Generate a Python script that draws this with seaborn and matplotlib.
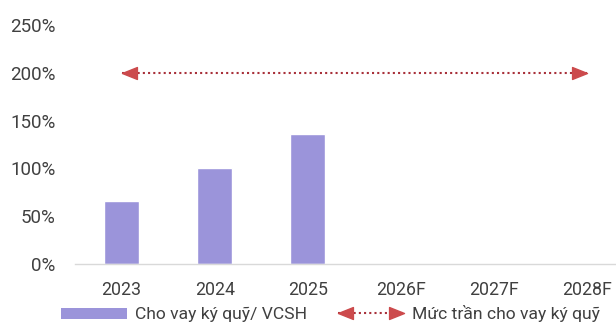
import numpy as np
import pandas as pd
import matplotlib
matplotlib.use("Agg")
import matplotlib.pyplot as plt
import seaborn as sns
from matplotlib.lines import Line2D
from matplotlib.patches import Patch
from matplotlib.path import Path
from matplotlib.markers import MarkerStyle
from matplotlib.legend_handler import HandlerBase

# Data
years = ["2023", "2024", "2025", "2026F", "2027F", "2028F"]
margin_to_equity = [66, 100, 136, np.nan, np.nan, np.nan]   # % of equity
margin_cap = 200                                              # % regulatory ceiling
bar_label = "Cho vay ký quỹ/ VCSH"
cap_label = "Mức trần cho vay ký quỹ"

BAR_COLOR = "#9b94da"
HEAD_COLOR = "#cc4a4c"
DOT_COLOR = "#a8303a"
TEXT_COLOR = "#404040"

sns.set_theme(style="white")
plt.rcParams["font.family"] = ["Roboto", "DejaVu Sans"]
plt.rcParams["text.color"] = TEXT_COLOR

# Arrow head markers whose tip sits on the data point
_codes = [Path.MOVETO, Path.LINETO, Path.LINETO, Path.CLOSEPOLY]
left_head = MarkerStyle(Path([(0, 0), (1, 0.4), (1, -0.4), (0, 0)], _codes))
right_head = MarkerStyle(Path([(0, 0), (-1, 0.4), (-1, -0.4), (0, 0)], _codes))
HEAD_SIZE = 21.5
DOT_STYLE = dict(color=DOT_COLOR, lw=1.5, linestyle=(0, (1, 1.5)))

df = pd.DataFrame({"year": years, "value": margin_to_equity})

fig = plt.figure(figsize=(6.16, 3.22), dpi=100)
ax = fig.add_axes([75 / 616, 58 / 322, (616 - 75) / 616, 239 / 322])

sns.barplot(data=df, x="year", y="value", order=years, color=BAR_COLOR,
            width=0.375, saturation=1, ax=ax)

# Cap line: dotted double-headed arrow across all years
x_first, x_last = 0, len(years) - 1
ax.plot([x_first, x_last], [margin_cap, margin_cap], zorder=3, **DOT_STYLE)
ax.plot([x_first], [margin_cap], marker=left_head, markersize=HEAD_SIZE,
        color=HEAD_COLOR, linestyle="none", zorder=4, clip_on=False)
ax.plot([x_last], [margin_cap], marker=right_head, markersize=HEAD_SIZE,
        color=HEAD_COLOR, linestyle="none", zorder=4, clip_on=False)

ax.set_xlim(-0.5, 5.31)
ax.set_ylim(0, 250)
ax.set_yticks(range(0, 251, 50))
ax.set_yticklabels([f"{v}%" for v in range(0, 251, 50)])
ax.set_xlabel("")
ax.set_ylabel("")
ax.tick_params(axis="both", length=0, colors=TEXT_COLOR)
ax.tick_params(axis="y", pad=14, labelsize=13.5)
ax.tick_params(axis="x", pad=12, labelsize=12.8)
for side in ["top", "right", "left"]:
    ax.spines[side].set_visible(False)
ax.spines["bottom"].set_color("#d9d9d9")
ax.spines["bottom"].set_linewidth(1.0)


class ArrowHandler(HandlerBase):
    def create_artists(self, legend, orig_handle, xdescent, ydescent,
                       width, height, fontsize, trans):
        y = height / 2 - ydescent
        x0 = -xdescent
        x1 = x0 + width
        line = Line2D([x0, x1], [y, y], transform=trans, **DOT_STYLE)
        lh = Line2D([x0], [y], marker=left_head, markersize=HEAD_SIZE,
                    color=HEAD_COLOR, linestyle="none", transform=trans)
        rh = Line2D([x1], [y], marker=right_head, markersize=HEAD_SIZE,
                    color=HEAD_COLOR, linestyle="none", transform=trans)
        return [line, lh, rh]


bar_handle = Patch(facecolor=BAR_COLOR, edgecolor="none")
cap_handle = Line2D([], [])
fig.legend([bar_handle, cap_handle], [bar_label, cap_label],
           handler_map={Line2D: ArrowHandler()},
           loc="center left", bbox_to_anchor=(61 / 616, 8 / 322),
           ncol=2, frameon=False, fontsize=12.6, handlelength=3.75,
           handleheight=0.65, handletextpad=0.5, columnspacing=1.75,
           borderpad=0, borderaxespad=0)

fig.savefig("out.png", dpi=100)
